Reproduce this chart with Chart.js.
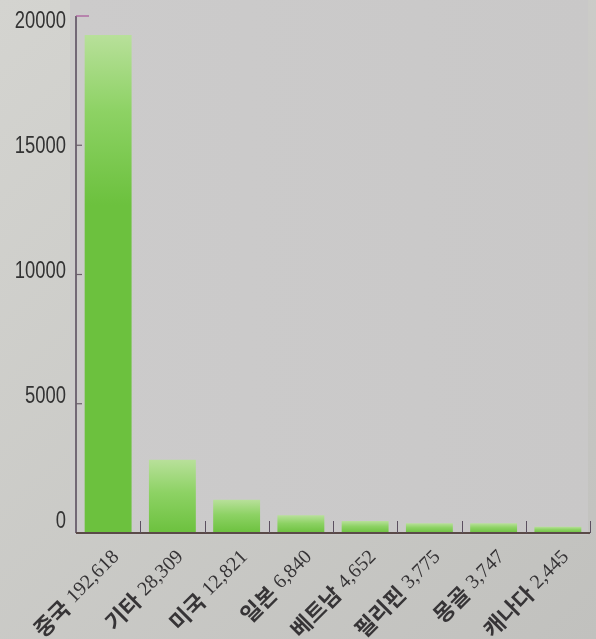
<!DOCTYPE html>
<html lang="ko">
<head>
<meta charset="utf-8">
<title>국가별 현황</title>
<script src="https://cdn.jsdelivr.net/npm/chart.js@4.4.1/dist/chart.umd.min.js"></script>
<style>
  html, body { margin: 0; padding: 0; background: #c8c8c5; }
  #wrap { position: relative; width: 596px; height: 639px; }
</style>
</head>
<body>
<div id="wrap"><canvas id="grafico"></canvas></div>
<script>
// 국가 이름과 인원
const nombres = ['중국', '기타', '미국', '일본', '베트남', '필리핀', '몽골', '캐나다'];
const valores = [192618, 28309, 12821, 6840, 4652, 3775, 3747, 2445];
const etiquetasValor = ['192,618', '28,309', '12,821', '6,840', '4,652', '3,775', '3,747', '2,445'];
const ticksY = ['0', '5000', '10000', '15000', '20000'];

// Fondo del lienzo y del área del gráfico
const fondo = {
    id: 'fondo',
    beforeDraw(chart) {
        const { ctx, chartArea: a, width, height } = chart;
        ctx.save();
        const g = ctx.createLinearGradient(0, 0, width, height);
        g.addColorStop(0, '#d4d4d0');
        g.addColorStop(1, '#c1c1be');
        ctx.fillStyle = g;
        ctx.fillRect(0, 0, width, height);
        const g2 = ctx.createLinearGradient(a.left, 0, a.right, 0);
        g2.addColorStop(0, '#cccbcb');
        g2.addColorStop(1, '#c9c8c8');
        ctx.fillStyle = g2;
        ctx.fillRect(a.left - 6, 0, a.right - a.left + 4, a.bottom + 2);
        ctx.restore();
    }
};

// Marcas hacia adentro, etiquetas del eje Y y etiquetas giradas del eje X
const ejes = {
    id: 'ejes',
    afterDatasetsDraw(chart) {
        const { ctx, chartArea: a, scales: { x, y } } = chart;
        ctx.save();
        // eje Y
        ctx.strokeStyle = '#54475a';
        ctx.lineWidth = 1.5;
        ctx.beginPath();
        ctx.moveTo(a.left, y.getPixelForValue(200000));
        ctx.lineTo(a.left, a.bottom);
        ctx.stroke();
        y.ticks.forEach((t, i) => {
            const py = y.getPixelForValue(t.value);
            const ultimo = i === y.ticks.length - 1;
            ctx.strokeStyle = ultimo ? '#a8559a' : '#6a5f6a';
            ctx.lineWidth = 1.2;
            ctx.beginPath();
            ctx.moveTo(a.left, py);
            ctx.lineTo(a.left + (ultimo ? 13 : 6), py);
            ctx.stroke();
            // números algo estrechos, un poco más juntos que las marcas
            const ly = a.top + 6 + (py - a.top) * 0.967;
            ctx.save();
            ctx.translate(a.left - 10, ly);
            ctx.scale(0.8, 1);
            ctx.fillStyle = '#333333';
            ctx.font = '23px "Liberation Sans", sans-serif';
            ctx.textAlign = 'right';
            ctx.textBaseline = 'middle';
            ctx.fillText(ticksY[i], 0, 0);
            ctx.restore();
        });
        // eje X
        ctx.strokeStyle = '#5a4a48';
        ctx.lineWidth = 2;
        ctx.beginPath();
        ctx.moveTo(a.left, a.bottom);
        ctx.lineTo(a.right, a.bottom);
        ctx.stroke();
        const paso = x.getPixelForValue(1) - x.getPixelForValue(0);
        ctx.strokeStyle = '#5c5060';
        ctx.lineWidth = 1;
        for (let i = 0; i < nombres.length; i++) {
            const px = Math.round(x.getPixelForValue(i) + paso / 2) + 0.5;
            ctx.beginPath();
            ctx.moveTo(px, a.bottom);
            ctx.lineTo(px, a.bottom - 12);
            ctx.stroke();
        }
        // etiquetas: nombre en negrita + número con serifa
        ctx.fillStyle = '#363436';
        ctx.textAlign = 'right';
        ctx.textBaseline = 'middle';
        nombres.forEach((n, i) => {
            ctx.save();
            ctx.translate(x.getPixelForValue(i) + 8, a.bottom + 21);
            ctx.rotate(-Math.PI / 4);
            ctx.font = '20px "Liberation Serif", serif';
            ctx.fillText(etiquetasValor[i], 0, 0);
            const w = ctx.measureText(etiquetasValor[i]).width;
            ctx.font = 'bold 22px "Noto Sans CJK KR", sans-serif';
            ctx.fillText(n, -w - 6, 0);
            ctx.restore();
        });
        ctx.restore();
    }
};

function degradado(context) {
    const chart = context.chart;
    const { ctx, chartArea, scales } = chart;
    if (!chartArea) return '#6cc040';
    const top = scales.y.getPixelForValue(context.raw);
    const h = chartArea.bottom - top;
    const g = ctx.createLinearGradient(0, top, 0, top + Math.min(h, 170));
    g.addColorStop(0, '#b8e09a');
    g.addColorStop(0.45, '#8dd264');
    g.addColorStop(1, '#6cc13e');
    return g;
}

const ctxGrafico = document.getElementById('grafico').getContext('2d');
new Chart(ctxGrafico, {
    type: 'bar',
    data: {
        labels: nombres,
        datasets: [{
            data: valores,
            backgroundColor: degradado,
            borderWidth: 0,
            barPercentage: 0.73,
            categoryPercentage: 1
        }]
    },
    options: {
        responsive: true,
        maintainAspectRatio: false,
        animation: false,
        layout: { padding: { top: 16, right: 6, left: 0, bottom: 0 } },
        plugins: {
            legend: { display: false },
            tooltip: { enabled: false }
        },
        scales: {
            x: {
                ticks: { display: false },
                grid: { display: false, drawTicks: false },
                border: { display: false },
                afterFit(scale) { scale.height = 106; }
            },
            y: {
                min: 0,
                max: 200000,
                ticks: { display: false, stepSize: 50000 },
                grid: { display: false, drawTicks: false },
                border: { display: false },
                afterFit(scale) { scale.width = 76; }
            }
        }
    },
    plugins: [fondo, ejes]
});
</script>
</body>
</html>
